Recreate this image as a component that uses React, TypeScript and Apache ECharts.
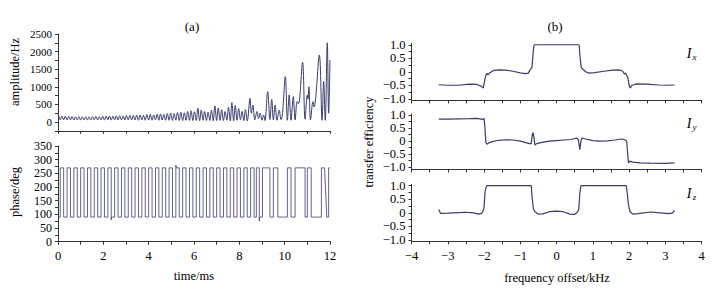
import React, { useEffect, useRef } from 'react';
import * as echarts from 'echarts';

// ---- (a) amplitude (Hz) vs time (ms)
const ampTime = [
  0.00, 0.05, 0.10, 0.17, 0.25, 0.32, 0.40, 0.47, 0.55, 0.62, 0.70, 0.77, 0.85, 0.92,
  1.00, 1.07, 1.15, 1.22, 1.30, 1.37, 1.45, 1.52, 1.60, 1.67, 1.75, 1.82, 1.90, 1.97,
  2.05, 2.12, 2.20, 2.27, 2.35, 2.42, 2.50, 2.57, 2.65, 2.72, 2.80, 2.87, 2.95,
  3.02, 3.10, 3.17, 3.25, 3.32, 3.40, 3.47, 3.55, 3.62, 3.70, 3.77, 3.85, 3.92,
  4.00, 4.07, 4.15, 4.22, 4.30, 4.37, 4.45, 4.52, 4.60, 4.67, 4.75, 4.82, 4.90, 4.97,
  5.05, 5.12, 5.20, 5.27, 5.35, 5.42, 5.50, 5.57, 5.65, 5.72, 5.80, 5.87, 5.95,
  6.02, 6.10, 6.17, 6.25, 6.32, 6.40, 6.47, 6.55, 6.62, 6.70, 6.77, 6.85, 6.92,
  7.00, 7.07, 7.15, 7.22, 7.30, 7.37, 7.45, 7.52, 7.60, 7.67, 7.75, 7.82, 7.90, 7.97,
  8.05, 8.12, 8.20, 8.27, 8.35, 8.47, 8.53, 8.60, 8.68, 8.78, 8.85, 8.92,
  9.00, 9.07, 9.13, 9.25, 9.35, 9.43, 9.50, 9.58, 9.66, 9.76, 9.84, 9.90,
  10.03, 10.12, 10.20, 10.28, 10.38, 10.46, 10.55, 10.61, 10.79, 10.90,
  11.00, 11.03, 11.07, 11.14, 11.25, 11.30, 11.53, 11.65, 11.72, 11.79, 11.88, 11.94, 12.00,
];
const ampValue = [
  255, 130, 65, 170, 60, 165, 55, 160, 60, 155, 55, 150, 60, 150,
  55, 145, 60, 150, 55, 145, 55, 150, 60, 155, 55, 150, 60, 160,
  55, 165, 60, 170, 55, 165, 60, 175, 55, 180, 60, 175, 55,
  185, 60, 190, 55, 185, 60, 195, 50, 200, 60, 190, 50, 210,
  55, 215, 50, 200, 60, 220, 50, 230, 55, 215, 50, 240, 50, 255,
  45, 240, 55, 270, 45, 280, 40, 260, 50, 300, 45, 320, 40,
  290, 45, 390, 40, 340, 50, 300, 40, 280, 45, 340, 35, 460,
  40, 400, 45, 350, 40, 300, 50, 420, 30, 550, 35, 470, 50, 380,
  60, 300, 40, 350, 30, 670, 250, 480, 60, 300, 100, 250,
  50, 200, 40, 860, 70, 640, 60, 480, 50, 340, 70, 200,
  1290, 50, 770, 50, 720, 60, 580, 520, 1695, 80,
  770, 650, 1000, 60, 580, 430, 1900, 50, 1150, 50, 2250, 250, 1760,
];

// ---- (a) phase (deg): switching instants between the two levels
const phaseLow = 90;
const phaseHigh = 270;
const phaseSwitchTimes = [
  0.10, 0.25, 0.40, 0.55, 0.70, 0.85, 1.00, 1.15, 1.30, 1.45, 1.60, 1.75, 1.90,
  2.05, 2.20, 2.35, 2.50, 2.65, 2.80, 2.95, 3.10, 3.25, 3.40, 3.55, 3.70, 3.85,
  4.00, 4.15, 4.30, 4.45, 4.60, 4.75, 4.90, 5.05, 5.20, 5.35, 5.50, 5.65, 5.80, 5.95,
  6.10, 6.25, 6.40, 6.55, 6.70, 6.85, 7.00, 7.15, 7.30, 7.45, 7.60, 7.75, 7.90,
  8.05, 8.20, 8.35, 8.50, 8.65, 8.75, 8.88, 9.02, 9.35, 9.50, 9.70,
  10.12, 10.28, 10.46, 10.90, 11.00, 11.17, 11.62, 11.76, 11.94,
];
const phaseSpikes: [number, number][] = [[2.35, 80], [5.20, 280], [8.88, 75]];
const phaseRamps: [number, number][] = [[11.76, 11.86]];

// ---- (b) transfer efficiency vs frequency offset (kHz)
const ixData: [number, number][] = [
  [-3.25, -0.48], [-3.0, -0.5], [-2.7, -0.5], [-2.4, -0.46], [-2.2, -0.47], [-2.08, -0.53],
  [-2.02, -0.6], [-1.98, -0.3], [-1.95, -0.12], [-1.92, -0.06], [-1.89, -0.12], [-1.85, -0.05],
  [-1.75, 0.04], [-1.6, 0.07], [-1.4, 0.06], [-1.2, 0.02], [-1.0, -0.04], [-0.85, -0.07],
  [-0.78, -0.05], [-0.73, 0.08], [-0.68, 0.15], [-0.64, 0.8], [-0.62, 1.0], [0.62, 1.0],
  [0.65, 0.5], [0.68, 0.15], [0.72, 0.1], [0.8, 0.0], [0.9, -0.05], [1.05, -0.03], [1.3, 0.02],
  [1.55, 0.06], [1.72, 0.07], [1.82, 0.03], [1.87, -0.08], [1.9, -0.05], [1.93, -0.13],
  [1.96, -0.2], [2.0, -0.5], [2.03, -0.6], [2.08, -0.5], [2.2, -0.45], [2.5, -0.46],
  [2.8, -0.49], [3.0, -0.5], [3.25, -0.49],
];
const iyData: [number, number][] = [
  [-3.25, 0.85], [-3.0, 0.85], [-2.7, 0.86], [-2.4, 0.87], [-2.2, 0.88], [-2.07, 0.85],
  [-2.04, 0.83], [-2.0, 0.88], [-1.98, 0.6], [-1.95, -0.05], [-1.92, -0.12], [-1.88, -0.08],
  [-1.8, -0.03], [-1.6, 0.03], [-1.4, 0.05], [-1.2, 0.04], [-1.0, 0.0], [-0.85, -0.06],
  [-0.75, -0.1], [-0.7, -0.1], [-0.67, 0.25], [-0.65, 0.33], [-0.62, 0.1], [-0.6, -0.15],
  [-0.55, -0.1], [-0.4, -0.05], [-0.2, 0.0], [0.0, 0.02], [0.2, 0.04], [0.4, 0.06],
  [0.55, 0.12], [0.6, 0.05], [0.64, -0.33], [0.67, 0.0], [0.7, 0.12], [0.8, 0.08],
  [1.0, 0.02], [1.2, 0.0], [1.4, 0.01], [1.6, 0.04], [1.8, 0.08], [1.88, 0.05], [1.93, 0.0],
  [1.96, -0.5], [1.98, -0.85], [2.02, -0.78], [2.1, -0.82], [2.3, -0.85], [2.6, -0.86],
  [3.0, -0.87], [3.25, -0.85],
];
const izData: [number, number][] = [
  [-3.25, 0.12], [-3.2, -0.02], [-3.0, -0.01], [-2.7, 0.01], [-2.5, 0.02], [-2.3, 0.0],
  [-2.15, -0.05], [-2.07, -0.02], [-2.03, 0.05], [-2.0, 0.2], [-1.97, 0.8], [-1.93, 1.0],
  [-0.7, 1.0], [-0.67, 0.5], [-0.64, 0.15], [-0.6, 0.05], [-0.5, -0.05], [-0.38, -0.04],
  [-0.2, 0.04], [0.0, 0.06], [0.18, 0.04], [0.37, -0.05], [0.49, -0.06], [0.57, 0.02],
  [0.61, 0.12], [0.64, 0.7], [0.67, 1.0], [1.92, 1.0], [1.95, 0.7], [1.98, 0.3],
  [2.02, 0.05], [2.1, -0.05], [2.25, -0.03], [2.4, 0.0], [2.6, 0.03], [2.85, 0.0],
  [3.1, -0.03], [3.2, 0.0], [3.25, 0.1],
];

// ---- ticks / labels
const timeTicks = [0, 1, 2, 3, 4, 5, 6, 7, 8, 9, 10, 11, 12];
const timeLabels = [0, 2, 4, 6, 8, 10, 12];
const ampTicks = [-250, 0, 250, 500, 750, 1000, 1250, 1500, 1750, 2000, 2250, 2500];
const ampLabels = [0, 500, 1000, 1500, 2000, 2500];
const phaseTicks = [0, 25, 50, 75, 100, 125, 150, 175, 200, 225, 250, 275, 300, 325, 350];
const phaseLabels = [0, 50, 100, 150, 200, 250, 300, 350];
const freqTicks = [-4, -3.5, -3, -2.5, -2, -1.5, -1, -0.5, 0, 0.5, 1, 1.5, 2, 2.5, 3, 3.5, 4];
const freqLabels = [-4, -3, -2, -1, 0, 1, 2, 3, 4];
const effTicks = [-1, -0.75, -0.5, -0.25, 0, 0.25, 0.5, 0.75, 1];
const effLabels = [-1, -0.5, 0, 0.5, 1];

const FONT = "'Liberation Serif', 'Times New Roman', serif";
const LINE = '#3b3b6e';
const AXIS = '#333';

function buildPhase(): [number, number][] {
  const pts: [number, number][] = [[0, phaseLow]];
  let level = phaseLow;
  for (const t of phaseSwitchTimes) {
    const next = level === phaseLow ? phaseHigh : phaseLow;
    pts.push([t, level]);
    const spike = phaseSpikes.find((s) => Math.abs(s[0] - t) < 1e-6);
    const ramp = phaseRamps.find((r) => Math.abs(r[0] - t) < 1e-6);
    if (ramp) {
      pts.push([ramp[1], next]);
    } else if (spike) {
      pts.push([t, spike[1]]);
      pts.push([t + 0.02, next]);
    } else {
      pts.push([t, next]);
    }
    level = next;
  }
  pts.push([12, level]);
  return pts;
}

const minus = (s: string) => s.replace('-', '\u2212');
const effFmt = (v: number) => (v === 0 ? '0' : minus(v.toFixed(1)));

function makeX(grid: number, min: number, max: number, ticks: number[], labels: number[] | null, fontSize: number) {
  return {
    type: 'value', gridIndex: grid, min, max,
    axisLine: { show: true, onZero: false, lineStyle: { color: AXIS, width: 1 } },
    axisTick: { show: true, customValues: ticks, length: 3, inside: false, lineStyle: { color: AXIS } },
    axisLabel: labels
      ? { show: true, customValues: labels, margin: 8, color: '#000', fontFamily: FONT, fontSize,
          formatter: (v: number) => minus(String(v)) }
      : { show: false },
    splitLine: { show: false },
  };
}
function makeY(grid: number, min: number, max: number, ticks: number[], labels: number[], fontSize: number, fmt?: (v: number) => string) {
  return {
    type: 'value', gridIndex: grid, min, max,
    axisLine: { show: true, onZero: false, lineStyle: { color: AXIS, width: 1 } },
    axisTick: { show: true, customValues: ticks, length: 3, lineStyle: { color: AXIS } },
    axisLabel: { show: true, customValues: labels, margin: 6, color: '#000', fontFamily: FONT, fontSize,
      formatter: fmt || ((v: number) => String(v)) },
    splitLine: { show: false },
  };
}

function txt(x: number, y: number, text: string, fontSize: number, opts: any = {}) {
  return {
    type: 'text', x, y, rotation: opts.rotation || 0,
    style: {
      text, fill: '#000', font: `${opts.italic ? 'italic ' : ''}${fontSize}px ${FONT}`,
      align: 'center', verticalAlign: 'middle',
    },
  };
}

export default function App() {
  const ref = useRef<HTMLDivElement>(null);
  useEffect(() => {
    if (!ref.current) return;
    const chart = echarts.init(ref.current, undefined, { renderer: 'svg' });
    const ampData = ampTime.map((t, i) => [t, ampValue[i]]);
    const lineSeries = (xi: number, data: any, width: number, smooth: any = false) => ({
      type: 'line', xAxisIndex: xi, yAxisIndex: xi, data, showSymbol: false, smooth,
      lineStyle: { color: LINE, width }, itemStyle: { color: LINE }, silent: true,
    });
    chart.setOption({
      animation: false,
      backgroundColor: '#fff',
      grid: [
        { left: 58, top: 34, width: 272, height: 96.8 },
        { left: 58, top: 146, width: 272, height: 95.7 },
        { left: 411.5, top: 43.4, width: 290.2, height: 57 },
        { left: 411.5, top: 114, width: 290.2, height: 55.4 },
        { left: 411.5, top: 184.3, width: 290.2, height: 57 },
      ],
      xAxis: [
        makeX(0, 0, 12, timeTicks, null, 12),
        makeX(1, 0, 12, timeTicks, timeLabels, 12.5),
        makeX(2, -4, 4, freqTicks, null, 12.5),
        makeX(3, -4, 4, freqTicks, null, 12.5),
        makeX(4, -4, 4, freqTicks, freqLabels, 12.5),
      ],
      yAxis: [
        makeY(0, -250, 2500, ampTicks, ampLabels, 11),
        makeY(1, 0, 350, phaseTicks, phaseLabels, 12),
        makeY(2, -1.06, 1.05, effTicks, effLabels, 12.5, effFmt),
        makeY(3, -1.1, 1.05, effTicks, effLabels, 12.5, effFmt),
        makeY(4, -1.05, 1.05, effTicks, effLabels, 12.5, effFmt),
      ],
      series: [
        lineSeries(0, ampData, 1, 0.35),
        lineSeries(1, buildPhase(), 0.8),
        lineSeries(2, ixData, 1.2),
        lineSeries(3, iyData, 1.2),
        lineSeries(4, izData, 1.2),
      ],
      graphic: [
        txt(192, 26, '(a)', 13),
        txt(555, 26, '(b)', 13),
        txt(15, 72, 'amplitude/Hz', 12.5, { rotation: Math.PI / 2 }),
        txt(15, 192, 'phase/deg', 12.5, { rotation: Math.PI / 2 }),
        txt(194, 276, 'time/ms', 12.5),
        txt(369, 142, 'transfer efficiency', 12.5, { rotation: Math.PI / 2 }),
        txt(557, 278, 'frequency offset/kHz', 12.5),
        txt(689, 53, 'I', 14, { italic: true }),
        txt(694.5, 57, 'x', 9, { italic: true }),
        txt(689, 123, 'I', 14, { italic: true }),
        txt(694.5, 127, 'y', 9, { italic: true }),
        txt(689, 193, 'I', 14, { italic: true }),
        txt(694.5, 197, 'z', 9, { italic: true }),
      ],
    });
    return () => chart.dispose();
  }, []);
  return <div ref={ref} style={{ position: 'fixed', left: 0, top: 0, width: 715, height: 289 }} />;
}
